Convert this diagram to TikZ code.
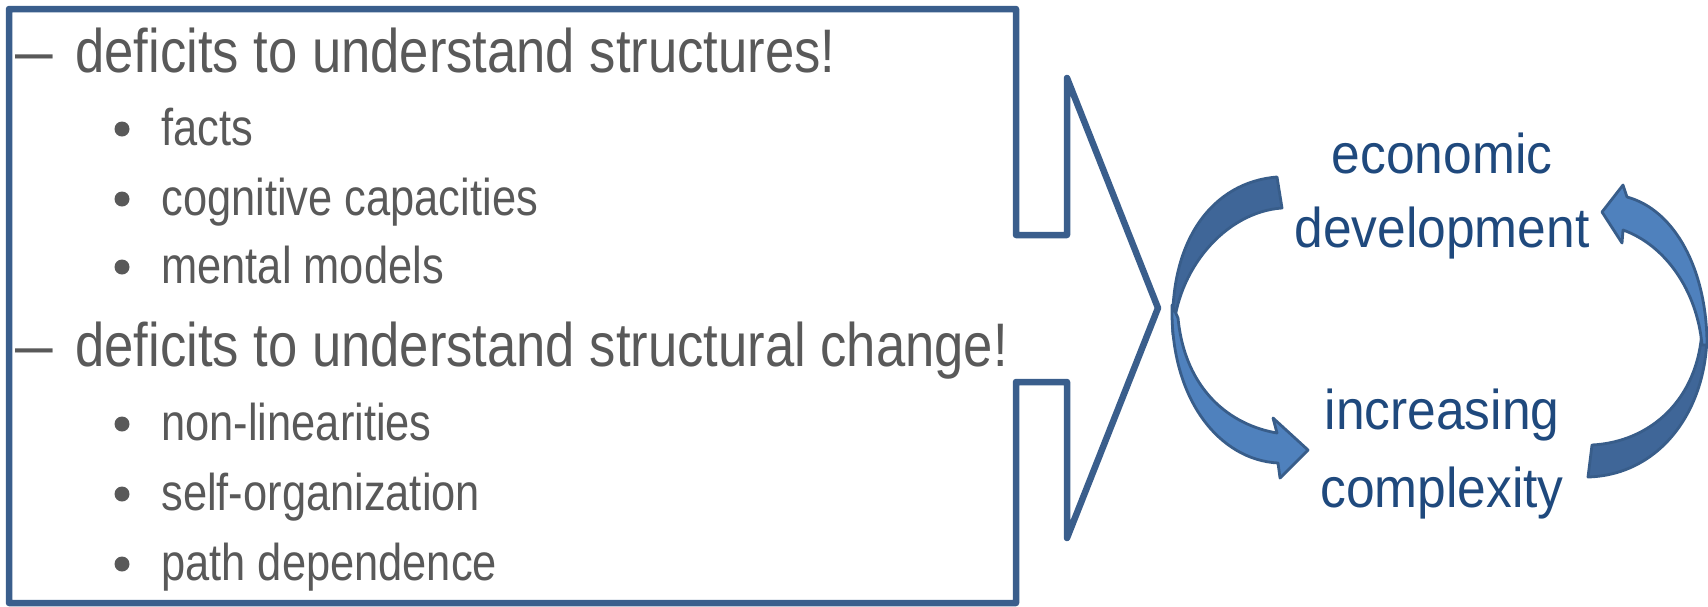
\documentclass[tikz,border=0pt]{standalone}
\usepackage{fontspec}
\setmainfont{Liberation Sans}
\usepackage{graphicx}
\definecolor{boxblue}{HTML}{3A5E8C}
\definecolor{txtgray}{HTML}{595959}
\definecolor{txtblue}{HTML}{1F497D}
\definecolor{arrlight}{HTML}{4F81BD}
\definecolor{arrdark}{HTML}{3F6698}
\definecolor{arredge}{HTML}{385D8A}
\begin{document}
\begin{tikzpicture}[x=0.5pt,y=-0.5pt,
  mainline/.style={font=\fontsize{30.75}{36}\selectfont, text=txtgray, inner sep=0pt, anchor=base west},
  subline/.style={font=\fontsize{25.85}{31}\selectfont, text=txtgray, inner sep=0pt, anchor=base west},
  bulletmark/.style={circle, fill=txtgray, inner sep=0pt, minimum size=7.5pt},
  cycletext/.style={font=\fontsize{28}{34}\selectfont, text=txtblue, inner sep=0pt, anchor=base},
  calloutline/.style={draw=boxblue, line width=3.25pt, line join=round},
  arrowfront/.style={fill=arrlight, draw=arredge, line width=1.4pt, line join=round},
  arrowback/.style={fill=arrdark, draw=arredge, line width=1.4pt, line join=round}]
\useasboundingbox (0,0) rectangle (1708,606);

% callout box
\draw[calloutline] (9,9) -- (1016,9) -- (1016,235) -- (1067,235) -- (1067,78)
  -- (1158,308) -- (1067,538) -- (1067,382) -- (1016,382) -- (1016,603)
  -- (9,603) -- cycle;

% left text
\node[mainline] (dashA) at (15,72) {\scalebox{1.1}[1]{–}};
\node[mainline] (lineA) at (75,72) {\scalebox{0.855}[1]{deficits to understand structures!}};
\node[bulletmark] (bulA1) at (122,129) {};
\node[subline] (itemA1) at (161,145) {\scalebox{0.84}[1]{facts}};
\node[bulletmark] (bulA2) at (122,199) {};
\node[subline] (itemA2) at (161,215) {\scalebox{0.84}[1]{cognitive capacities}};
\node[bulletmark] (bulA3) at (122,267) {};
\node[subline] (itemA3) at (161,283) {\scalebox{0.84}[1]{mental models}};

\node[mainline] (dashB) at (15,366) {\scalebox{1.1}[1]{–}};
\node[mainline] (lineB) at (75,366) {\scalebox{0.855}[1]{deficits to understand structural change!}};
\node[bulletmark] (bulB1) at (122,424) {};
\node[subline] (itemB1) at (161,440) {\scalebox{0.84}[1]{non-linearities}};
\node[bulletmark] (bulB2) at (122,494) {};
\node[subline] (itemB2) at (161,510) {\scalebox{0.84}[1]{self-organization}};
\node[bulletmark] (bulB3) at (122,564) {};
\node[subline] (itemB3) at (161,580) {\scalebox{0.84}[1]{path dependence}};

% right text
\node[cycletext] (econA) at (1442,173) {\scalebox{0.92}[1]{economic}};
\node[cycletext] (econB) at (1442,247) {\scalebox{0.92}[1]{development}};
\node[cycletext] (compA) at (1442,429) {\scalebox{0.92}[1]{increasing}};
\node[cycletext] (compB) at (1442,507) {\scalebox{0.92}[1]{complexity}};

% left curved arrow (down)
\filldraw[arrowback] (1277,177) .. controls (1213,182) and (1168,240) .. (1173,335)
  .. controls (1176,270) and (1225,212) .. (1282,208) -- cycle;
\filldraw[arrowfront] (1172,305) .. controls (1170,400) and (1220,460) .. (1278,463)
  -- (1280,478) -- (1308,450) -- (1273,418) -- (1277,433)
  .. controls (1230,425) and (1185,390) .. (1178,318) -- cycle;

% right curved arrow (up)
\filldraw[arrowback] (1707,330) .. controls (1708,410) and (1660,475) .. (1588,477)
  -- (1592,445) .. controls (1650,442) and (1698,400) .. (1702,330) -- cycle;
\filldraw[arrowfront] (1707,345) .. controls (1707,270) and (1675,210) .. (1627,197)
  -- (1623,185) -- (1602,212) -- (1622,243) -- (1623,230)
  .. controls (1665,245) and (1697,290) .. (1702,345) -- cycle;
\end{tikzpicture}
\end{document}
